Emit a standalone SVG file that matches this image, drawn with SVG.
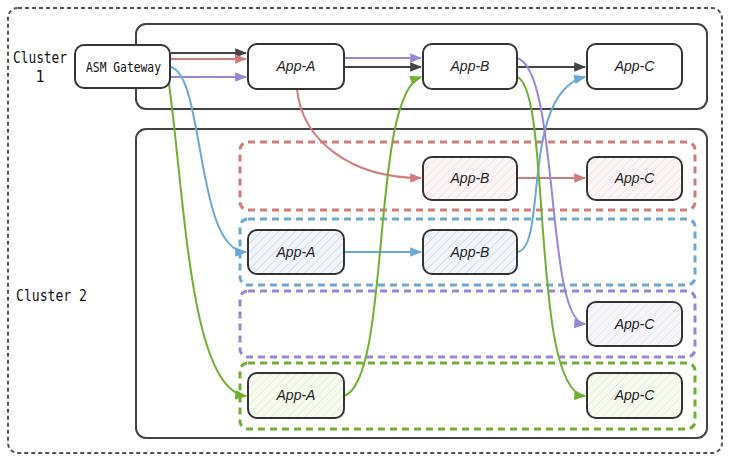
<svg xmlns="http://www.w3.org/2000/svg" width="729" height="462" viewBox="0 0 729 462">
<style>
.node{stroke:#333;stroke-width:2;}
.lbl{font-family:"Liberation Sans","DejaVu Sans",sans-serif;font-style:italic;font-size:14px;fill:#222;text-anchor:middle;}
.mono{font-family:"DejaVu Sans Mono","Liberation Mono",monospace;fill:#111;}
.cl{fill:none;stroke:#444;stroke-width:2;}
.grp{fill:none;stroke-width:3;stroke-dasharray:7 5;}
.c{fill:none;stroke-width:2;}
</style>
<defs>
<pattern id="hr" width="6" height="6" patternUnits="userSpaceOnUse" patternTransform="rotate(45)"><rect width="6" height="6" fill="#fbf5f5"/><line x1="0" y1="0" x2="0" y2="6" stroke="#e8d4d4" stroke-width="1"/></pattern>
<pattern id="hb" width="6" height="6" patternUnits="userSpaceOnUse" patternTransform="rotate(45)"><rect width="6" height="6" fill="#f2f6fa"/><line x1="0" y1="0" x2="0" y2="6" stroke="#b8c8d8" stroke-width="1"/></pattern>
<pattern id="hp" width="6" height="6" patternUnits="userSpaceOnUse" patternTransform="rotate(45)"><rect width="6" height="6" fill="#f6f6f9"/><line x1="0" y1="0" x2="0" y2="6" stroke="#d8d8e2" stroke-width="1"/></pattern>
<pattern id="hg" width="6" height="6" patternUnits="userSpaceOnUse" patternTransform="rotate(45)"><rect width="6" height="6" fill="#f6faef"/><line x1="0" y1="0" x2="0" y2="6" stroke="#d6e6c4" stroke-width="1"/></pattern>
<marker id="ak" viewBox="0 0 10 10" refX="9" refY="5" markerWidth="6" markerHeight="6" orient="auto"><path d="M0,1 L10,5 L0,9 z" fill="#444"/></marker>
<marker id="ar" viewBox="0 0 10 10" refX="9" refY="5" markerWidth="6" markerHeight="6" orient="auto"><path d="M0,1 L10,5 L0,9 z" fill="#d07c7c"/></marker>
<marker id="ab" viewBox="0 0 10 10" refX="9" refY="5" markerWidth="6" markerHeight="6" orient="auto"><path d="M0,1 L10,5 L0,9 z" fill="#6aa8d8"/></marker>
<marker id="ap" viewBox="0 0 10 10" refX="9" refY="5" markerWidth="6" markerHeight="6" orient="auto"><path d="M0,1 L10,5 L0,9 z" fill="#9a86d6"/></marker>
<marker id="ag" viewBox="0 0 10 10" refX="9" refY="5" markerWidth="6" markerHeight="6" orient="auto"><path d="M0,1 L10,5 L0,9 z" fill="#6fb030"/></marker>
</defs>
<rect width="729" height="462" fill="#fff"/>
<g id="outer"><rect x="8" y="8" width="714" height="445" rx="10" fill="none" stroke="#555" stroke-width="2" stroke-dasharray="4 3"/></g>
<g id="cluster1"><rect class="cl" x="136" y="24" width="571" height="85" rx="10"/><text class="mono" x="13" y="63" font-size="15" textLength="54" lengthAdjust="spacingAndGlyphs">Cluster</text><text class="mono" x="40" y="82" font-size="15" text-anchor="middle">1</text></g>
<g id="cluster2"><rect class="cl" x="136" y="129" width="571" height="309" rx="10"/><text class="mono" x="16" y="301" font-size="16" textLength="71" lengthAdjust="spacingAndGlyphs">Cluster 2</text></g>
<g id="group-red"><rect class="grp" x="240" y="142" width="455" height="68" rx="8" stroke="#d07c7c"/></g>
<g id="group-blue"><rect class="grp" x="240" y="219" width="455" height="66" rx="8" stroke="#6aa8d8"/></g>
<g id="group-purple"><rect class="grp" x="240" y="291" width="455" height="66" rx="8" stroke="#9a86d6"/></g>
<g id="group-green"><rect class="grp" x="240" y="363" width="455" height="66" rx="8" stroke="#6fb030"/></g>
<g id="connectors">
<path class="c" stroke="#444" d="M171,53 L246,53" marker-end="url(#ak)"/>
<path class="c" stroke="#d07c7c" d="M171,59 L246,59" marker-end="url(#ar)"/>
<path class="c" stroke="#9a86d6" d="M171,77 L246,77" marker-end="url(#ap)"/>
<path class="c" stroke="#9a86d6" d="M344,58 L421,58" marker-end="url(#ap)"/>
<path class="c" stroke="#444" d="M344,67 L421,67" marker-end="url(#ak)"/>
<path class="c" stroke="#444" d="M517,67 L585,67" marker-end="url(#ak)"/>
<path class="c" stroke="#d07c7c" d="M297,89 C302,140 350,178 421,178" marker-end="url(#ar)"/>
<path class="c" stroke="#d07c7c" d="M517,178 L585,178" marker-end="url(#ar)"/>
<path class="c" stroke="#6aa8d8" d="M170,67 C205,72 195,252 246,252" marker-end="url(#ab)"/>
<path class="c" stroke="#6aa8d8" d="M344,252 L421,252" marker-end="url(#ab)"/>
<path class="c" stroke="#6aa8d8" d="M517,252 C548,250 520,92 585,77" marker-end="url(#ab)"/>
<path class="c" stroke="#9a86d6" d="M517,58 C560,70 545,322 585,324" marker-end="url(#ap)"/>
<path class="c" stroke="#6fb030" d="M169,84 C185,200 190,390 246,396" marker-end="url(#ag)"/>
<path class="c" stroke="#6fb030" d="M344,396 C392,380 370,95 421,77" marker-end="url(#ag)"/>
<path class="c" stroke="#6fb030" d="M517,77 C552,88 530,392 585,396" marker-end="url(#ag)"/>
</g>
<g id="gateway"><rect class="node" x="75" y="45" width="95" height="43" rx="9" fill="#fff"/><text class="mono" x="86" y="72" font-size="14" textLength="75" lengthAdjust="spacingAndGlyphs">ASM Gateway</text></g>
<g id="c1-app-a"><rect class="node" x="248" y="44" width="96" height="45" rx="9" fill="#fff"/><text class="lbl" x="296" y="71">App-A</text></g>
<g id="c1-app-b"><rect class="node" x="423" y="44" width="94" height="45" rx="9" fill="#fff"/><text class="lbl" x="470" y="71">App-B</text></g>
<g id="c1-app-c"><rect class="node" x="587" y="44" width="95" height="45" rx="9" fill="#fff"/><text class="lbl" x="634.5" y="71">App-C</text></g>
<g id="red-app-b"><rect class="node" x="423" y="157" width="94" height="43" rx="9" fill="url(#hr)"/><text class="lbl" x="470" y="183">App-B</text></g>
<g id="red-app-c"><rect class="node" x="587" y="157" width="95" height="43" rx="9" fill="url(#hr)"/><text class="lbl" x="634.5" y="183">App-C</text></g>
<g id="blue-app-a"><rect class="node" x="248" y="230" width="96" height="44" rx="9" fill="url(#hb)"/><text class="lbl" x="296" y="257">App-A</text></g>
<g id="blue-app-b"><rect class="node" x="423" y="230" width="94" height="44" rx="9" fill="url(#hb)"/><text class="lbl" x="470" y="257">App-B</text></g>
<g id="purple-app-c"><rect class="node" x="587" y="302" width="95" height="44" rx="9" fill="url(#hp)"/><text class="lbl" x="634.5" y="329">App-C</text></g>
<g id="green-app-a"><rect class="node" x="248" y="373" width="96" height="45" rx="9" fill="url(#hg)"/><text class="lbl" x="296" y="400">App-A</text></g>
<g id="green-app-c"><rect class="node" x="587" y="373" width="95" height="45" rx="9" fill="url(#hg)"/><text class="lbl" x="634.5" y="400">App-C</text></g>
</svg>
